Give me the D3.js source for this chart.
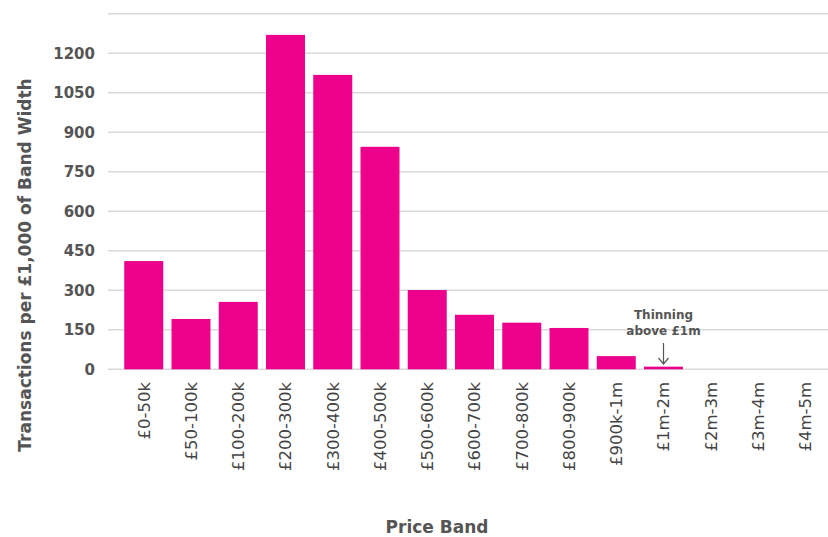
<!DOCTYPE html>
<html>
<head>
<meta charset="utf-8">
<script src="https://cdn.jsdelivr.net/npm/d3@7"></script>
<style>
  body { margin: 0; background: #fff; }
  svg { display: block; font-family: "DejaVu Sans", "Noto Sans", sans-serif; }
</style>
</head>
<body>
<svg id="chart" width="828" height="537"></svg>
<script>
// price bands and values
const bands = ["£0-50k", "£50-100k", "£100-200k", "£200-300k", "£300-400k", "£400-500k",
  "£500-600k", "£600-700k", "£700-800k", "£800-900k", "£900k-1m", "£1m-2m",
  "£2m-3m", "£3m-4m", "£4m-5m"];
const values = [411, 191, 256, 1270, 1118, 845, 301, 207, 177, 157, 50, 10, 0, 0, 0];
const gridTicks = [0, 150, 300, 450, 600, 750, 900, 1050, 1200, 1350];
const labelTicks = [0, 150, 300, 450, 600, 750, 900, 1050, 1200];
const noteLines = ["Thinning", "above £1m"];
const noteBand = "£1m-2m";

const svg = d3.select("#chart");

const x = d3.scaleBand().domain(bands).range([120, 829]).paddingInner(0.175).paddingOuter(0.09);
const y = d3.scaleLinear().domain([0, 1350]).range([369.3, 13.8]);

// linhas de grade
svg.append("g").selectAll("line").data(gridTicks).join("line")
  .attr("x1", 108).attr("x2", 828)
  .attr("y1", d => y(d)).attr("y2", d => y(d))
  .attr("stroke", "#d9d9d9").attr("stroke-width", 1.5);

// rótulos do eixo y
svg.append("g").selectAll("text").data(labelTicks).join("text")
  .attr("x", 95).attr("y", d => y(d)).attr("dy", "0.35em")
  .attr("text-anchor", "end")
  .attr("font-size", 15).attr("font-weight", 600).attr("fill", "#555")
  .text(d => d);

// barras
svg.append("g").selectAll("rect").data(bands).join("rect")
  .attr("x", d => x(d)).attr("width", x.bandwidth())
  .attr("y", (d, i) => y(values[i]))
  .attr("height", (d, i) => y(0) - y(values[i]))
  .attr("fill", "#EC008C");

// rótulos do eixo x (rodados)
svg.append("g").selectAll("text").data(bands).join("text")
  .attr("transform", d => `translate(${x(d) + x.bandwidth() / 2},382) rotate(-90)`)
  .attr("dy", "0.35em")
  .attr("text-anchor", "end")
  .attr("font-size", 16.5).attr("fill", "#444")
  .text(d => d);

// títulos dos eixos
svg.append("text")
  .attr("transform", "translate(25,265) rotate(-90)")
  .attr("text-anchor", "middle").attr("dy", "0.35em")
  .attr("font-size", 17).attr("font-weight", 600).attr("fill", "#555")
  .text("Transactions per £1,000 of Band Width");

svg.append("text")
  .attr("x", 437).attr("y", 533)
  .attr("text-anchor", "middle")
  .attr("font-size", 17).attr("font-weight", 600).attr("fill", "#555")
  .text("Price Band");

// anotação
const nx = x(noteBand) + x.bandwidth() / 2;
svg.append("g").selectAll("text").data(noteLines).join("text")
  .attr("x", nx).attr("y", (d, i) => 319 + i * 16)
  .attr("text-anchor", "middle")
  .attr("font-size", 12).attr("font-weight", 600).attr("fill", "#555")
  .text(d => d);

svg.append("line")
  .attr("x1", nx).attr("x2", nx).attr("y1", 343).attr("y2", 364)
  .attr("stroke", "#555").attr("stroke-width", 1.2);
svg.append("path")
  .attr("d", `M${nx - 5},${358} L${nx},${364} L${nx + 5},${358}`)
  .attr("fill", "none").attr("stroke", "#555").attr("stroke-width", 1.2);
</script>
</body>
</html>
